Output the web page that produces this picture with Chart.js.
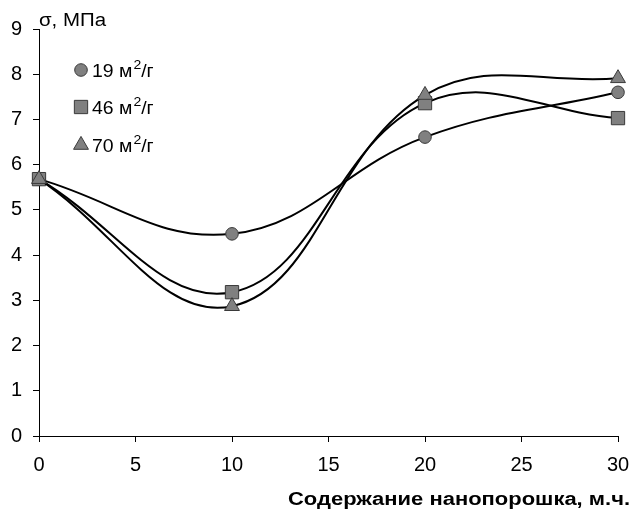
<!DOCTYPE html>
<html>
<head>
<meta charset="utf-8">
<script src="https://cdn.jsdelivr.net/npm/chart.js@4/dist/chart.umd.min.js"></script>
<style>
html,body{margin:0;padding:0;background:#fff;}
#wrap{width:634px;height:511px;position:relative;}
</style>
</head>
<body>
<div id="wrap"><canvas id="c" width="634" height="511"></canvas></div>
<script>
const content = [0, 10, 20, 30];
const s19 = [5.68, 4.47, 6.61, 7.60];
const s46 = [5.68, 3.18, 7.36, 7.03];
const s70 = [5.68, 2.87, 7.54, 7.91];
const seriesLabels = ['19', '46', '70'];
const yTitle = 'σ, МПа';
const xTitle = 'Содержание нанопорошка, м.ч.';

const FONT = '"Liberation Sans", Arial, sans-serif';
const markerFill = '#808080';
const markerBorder = '#3a3a3a';

function pts(arr){ return content.map((x,i)=>({x:x, y:arr[i]})); }

const styles = [
  {style:'circle', r:6.3},
  {style:'rect', r:9.4},
  {style:'triangle', r:8.6}
];

const datasets = [s19, s46, s70].map((arr, i) => ({
  label: seriesLabels[i],
  data: pts(arr),
  borderColor: '#000',
  borderWidth: 2,
  tension: 0.4,
  pointStyle: styles[i].style,
  pointRadius: styles[i].r,
  pointHoverRadius: styles[i].r,
  pointBackgroundColor: markerFill,
  pointBorderColor: markerBorder,
  pointBorderWidth: 1,
  order: 2 - i,
  clip: false
}));

// draw text stretched horizontally to a target width
function fitText(ctx, txt, x, y, width) {
  const w = ctx.measureText(txt).width;
  const k = width / w;
  ctx.save();
  ctx.translate(x, y);
  ctx.scale(k, 1);
  ctx.textAlign = 'left';
  ctx.fillText(txt, 0, 0);
  ctx.restore();
}

const textPlugin = {
  id: 'texts',
  afterDraw(chart) {
    const ctx = chart.ctx;
    ctx.save();
    ctx.fillStyle = '#000';
    ctx.textBaseline = 'alphabetic';
    // y title
    ctx.font = '18px ' + FONT;
    fitText(ctx, yTitle, 39, 26, 67);
    // x title
    ctx.font = 'bold 18px ' + FONT;
    fitText(ctx, xTitle, 288, 505, 342);
    // legend
    const items = [
      {y: 70, st: styles[0]},
      {y: 107, st: styles[1]},
      {y: 145, st: styles[2]}
    ];
    items.forEach((it, i) => {
      ctx.fillStyle = markerFill;
      ctx.strokeStyle = markerBorder;
      ctx.lineWidth = 1;
      Chart.helpers.drawPoint(ctx, {pointStyle: it.st.style, radius: it.st.r, borderWidth: 1}, 81, it.y);
      ctx.fillStyle = '#000';
      ctx.font = '18px ' + FONT;
      let x = 92;
      const base = it.y + 7;
      const t1 = seriesLabels[i] + ' м';
      fitText(ctx, t1, x, base, ctx.measureText(t1).width * 1.08);
      x += ctx.measureText(t1).width * 1.08 + 1;
      ctx.font = '13px ' + FONT;
      fitText(ctx, '2', x, base - 8, ctx.measureText('2').width * 1.08);
      x += ctx.measureText('2').width * 1.08;
      ctx.font = '18px ' + FONT;
      fitText(ctx, '/г', x, base, ctx.measureText('/г').width * 1.08);
    });
    ctx.restore();
  }
};

new Chart(document.getElementById('c'), {
  type: 'line',
  data: { datasets },
  options: {
    responsive: false,
    animation: false,
    events: [],
    layout: { padding: { top: 29, right: 16, left: 0, bottom: 0 } },
    plugins: { legend: { display: false }, tooltip: { enabled: false } },
    scales: {
      x: {
        type: 'linear',
        min: 0, max: 30,
        afterFit(s){ s.height = 75; s.paddingRight = 0; s.paddingLeft = 0; },
        ticks: { stepSize: 5, color: '#000', font: { family: FONT, size: 20 }, padding: 11, maxRotation: 0 },
        grid: { drawOnChartArea: false, tickLength: 6, color: '#000', tickColor: '#000' },
        border: { color: '#000', width: 1 }
      },
      y: {
        min: 0, max: 9,
        afterFit(s){ s.width = 39; s.paddingTop = 0; s.paddingBottom = 0; },
        ticks: { stepSize: 1, color: '#000', font: { family: FONT, size: 20 }, padding: 11 },
        grid: { drawOnChartArea: false, tickLength: 6, color: '#000', tickColor: '#000' },
        border: { color: '#000', width: 1 }
      }
    }
  },
  plugins: [textPlugin]
});
</script>
</body>
</html>
